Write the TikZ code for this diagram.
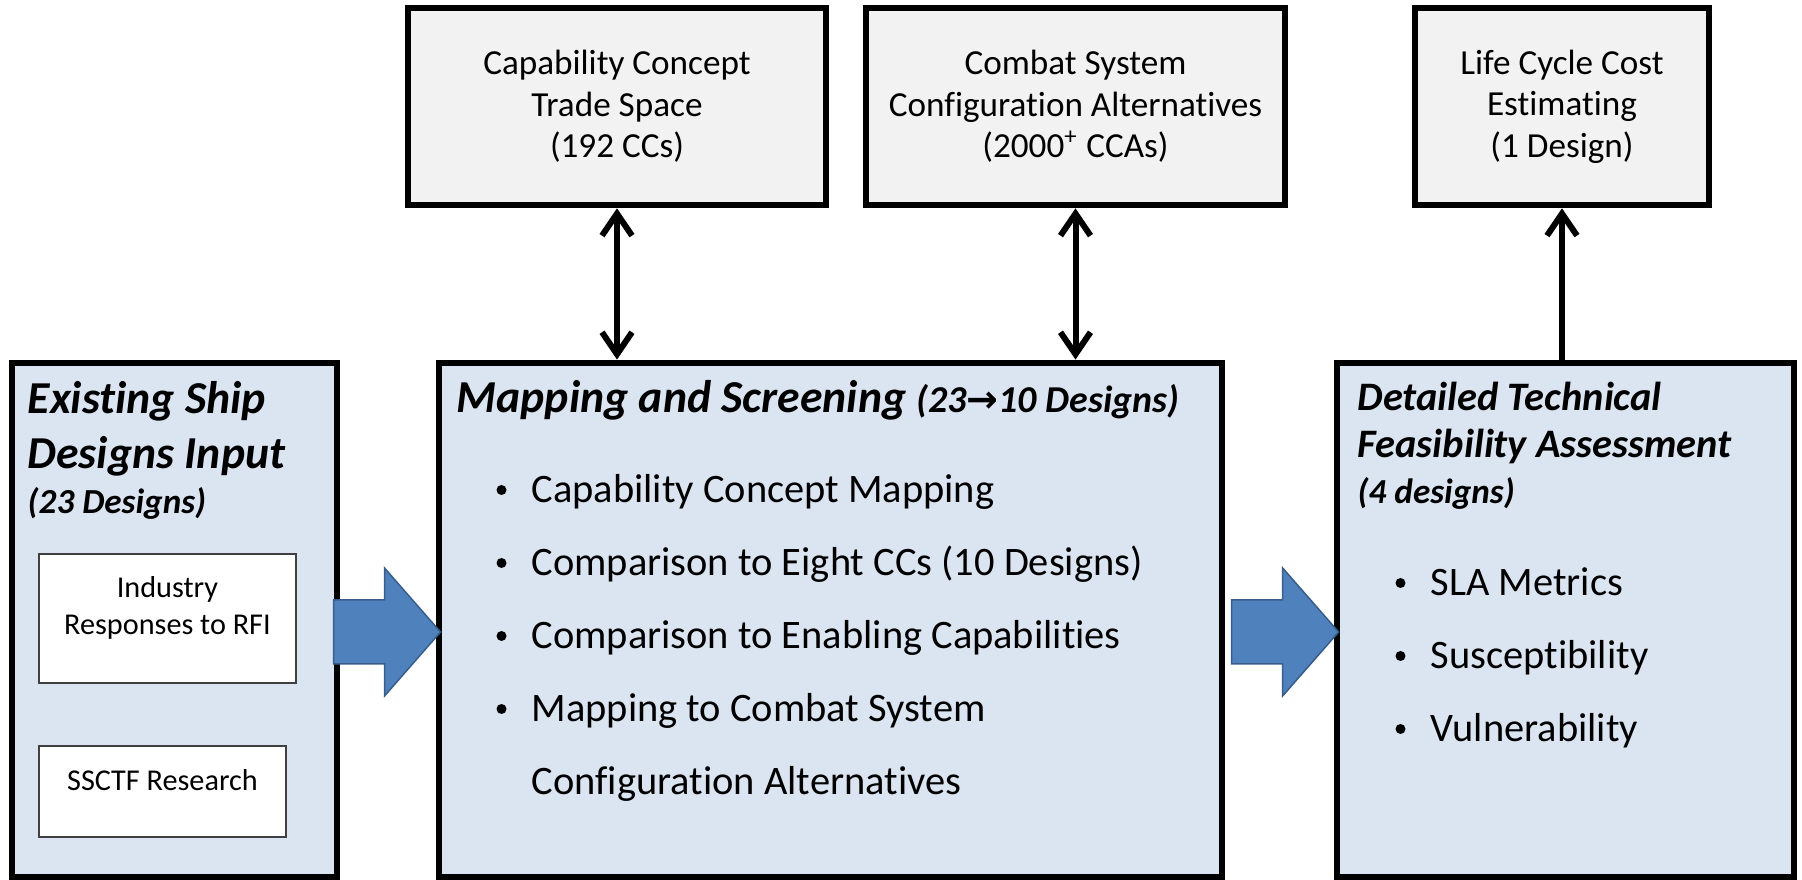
\documentclass[tikz,border=0pt]{standalone}
\usepackage{fontspec}
\setmainfont{Carlito}[Ligatures=NoCommon]
\newfontfamily\arrowfont{DejaVu Sans}
\usetikzlibrary{arrows.meta, positioning, calc}

\definecolor{stageblue}{HTML}{DBE5F1}
\definecolor{outgray}{HTML}{F2F2F2}
\definecolor{flowblue}{HTML}{4F81BD}
\definecolor{flowedge}{HTML}{385D8A}

\newcommand\hdfont{\fontsize{13}{15}\selectfont\bfseries\itshape}
\newcommand\rhdfont{\fontsize{11.5}{13}\selectfont\bfseries\itshape}
\newcommand\subhdfont{\fontsize{10}{12}\selectfont\bfseries\itshape}
\newcommand\itemfont{\fontsize{11.5}{14}\selectfont}
\newcommand\topfont{\fontsize{10}{11.8}\selectfont}
\newcommand\srcfont{\fontsize{8.6}{10}\selectfont}

\begin{document}
\begin{tikzpicture}[x=0.01cm, y=-0.01cm,
    >={Straight Barb[length=2.2mm, width=3mm]},
    stagebox/.style={draw, line width=0.65mm, fill=stageblue, minimum height=51.4mm},
    outbox/.style={draw, line width=0.65mm, fill=outgray, minimum height=19.7mm,
        align=center, font=\topfont},
    srcbox/.style={draw=black!75, line width=0.2mm, fill=white},
    link/.style={line width=0.6mm},
    flow/.style={fill=flowblue, draw=flowedge, line width=0.15mm},
    dot/.style={circle, fill, inner sep=0pt, minimum size=1mm},
    txt/.style={anchor=base west, inner sep=0pt}]
    \useasboundingbox (0,0) rectangle (1802,880);

    % the three stages
    \node[stagebox, minimum width=32.5mm] (input) at (174.5,620) {};
    \node[stagebox, minimum width=78.3mm] (screen) at (830.5,620) {};
    \node[stagebox, minimum width=45.7mm] (assess) at (1565.5,620) {};

    % outputs along the top
    \node[outbox, minimum width=41.8mm] (cc) at (617,106.5)
        {Capability Concept\\Trade Space\\(192 CCs)};
    \node[outbox, minimum width=41.9mm] (csca) at (1075.5,106.5)
        {Combat System\\Configuration Alternatives\\(2000\textsuperscript{+} CCAs)};
    \node[outbox, minimum width=29.4mm] (lcc) at (1562,106.5)
        {Life Cycle Cost\\Estimating\\(1 Design)};

    \draw[link, <->] (cc.south) -- (cc.south |- screen.north);
    \draw[link, <->] (csca.south) -- (csca.south |- screen.north);
    \draw[link, ->] (assess.north -| lcc.south) -- (lcc.south);

    % existing designs
    \node[txt, font=\hdfont] (inputT1) at (27,414) {Existing Ship};
    \node[txt, font=\hdfont] (inputT2) at (27,469) {Designs Input};
    \node[txt, font=\subhdfont] (inputT3) at (27,514) {(23 Designs)};
    \node[srcbox, minimum width=25.7mm, minimum height=12.9mm] (rfi) at (167.5,618.5) {};
    \node[anchor=base, font=\srcfont] (rfiT1) at (rfi.north |- 0,598) {Industry};
    \node[anchor=base, font=\srcfont] (rfiT2) at (rfi.north |- 0,635) {Responses to RFI};
    \node[srcbox, minimum width=24.7mm, minimum height=9.1mm] (ssctf) at (162.5,791.5) {};
    \node[anchor=base, font=\srcfont] (ssctfT) at (ssctf.north |- 0,791) {SSCTF Research};

    % mapping and screening
    \node[txt, font=\hdfont] (screenT) at (456,413)
        {Mapping and Screening {\fontsize{10.8}{12}\selectfont(23{\arrowfont\bfseries\upshape →}10 Designs)}};
    \foreach \y/\lbl in {503/Capability Concept Mapping,
                         576/Comparison to Eight CCs (10 Designs),
                         649/Comparison to Enabling Capabilities,
                         722/Mapping to Combat System} {
        \node[dot] (screenD\y) at (501.5,\y-13) {};
        \node[txt, font=\itemfont] (screenI\y) at (531,\y) {\lbl};
    }
    \node[txt, font=\itemfont] (screenI795) at (531,795) {Configuration Alternatives};

    % technical feasibility
    \node[txt, font=\rhdfont] (assessT1) at (1357,411) {Detailed Technical};
    \node[txt, font=\rhdfont] (assessT2) at (1357,458) {Feasibility Assessment};
    \node[txt, font=\subhdfont] (assessT3) at (1357,504) {(4 designs)};
    \foreach \y/\lbl in {596/SLA Metrics, 669/Susceptibility, 742/Vulnerability} {
        \node[dot] (assessD\y) at (1400.5,\y-13) {};
        \node[txt, font=\itemfont] (assessI\y) at (1430,\y) {\lbl};
    }

    % block arrows between stages
    \coordinate (tipA) at ($(screen.west)+(5,12)$);
    \coordinate (tipB) at ($(assess.west)+(5,12)$);
    \draw[flow] (tipA) -- ++(-56,-64) -- ++(0,32) -- ++(-51,0) -- ++(0,64)
        -- ++(51,0) -- ++(0,32) -- cycle;
    \draw[flow] (tipB) -- ++(-56,-64) -- ++(0,32) -- ++(-51,0) -- ++(0,64)
        -- ++(51,0) -- ++(0,32) -- cycle;
\end{tikzpicture}
\end{document}
